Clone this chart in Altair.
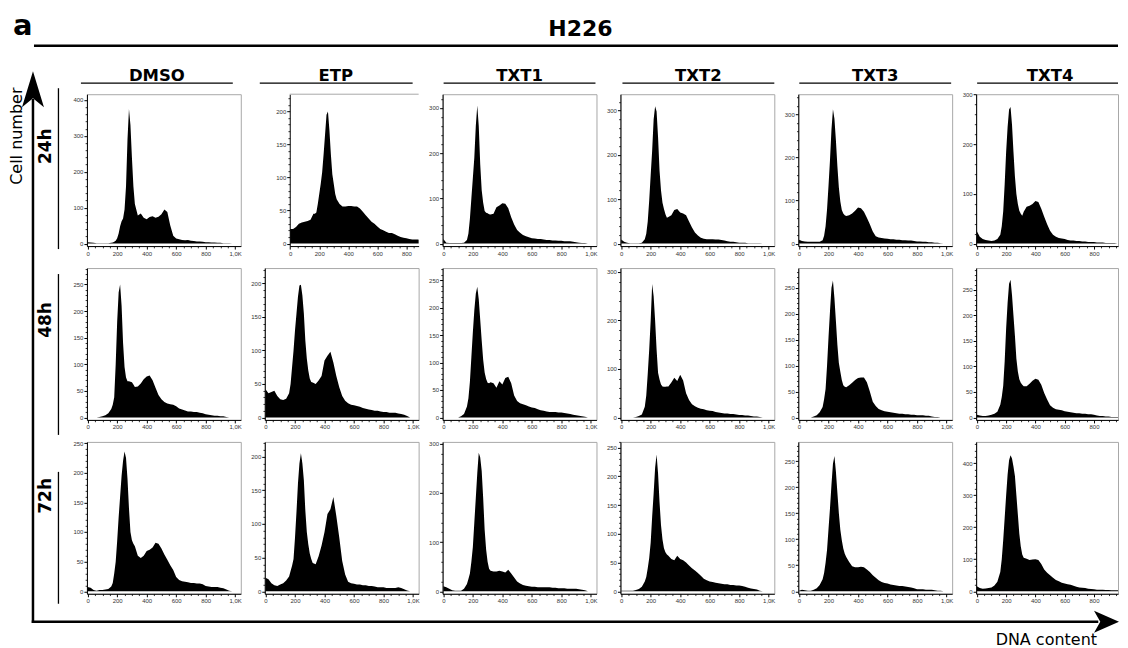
import altair as alt
import pandas as pd

# ---------------- data ----------------
XS = [0, 20, 40, 60, 80, 100, 120, 140, 160,
      170, 180, 190, 200, 210, 220, 230, 240, 250, 260, 270, 280, 290, 300, 310, 320,
      340, 360, 380, 400, 420, 440, 460, 480, 500, 520, 540, 560, 580, 600, 620, 640,
      660, 680, 700, 720, 740, 760, 780, 800, 820, 840, 860, 880, 900, 920, 940, 960,
      980, 1000, 1020]

COLUMNS = ["DMSO", "ETP", "TXT1", "TXT2", "TXT3", "TXT4"]
ROWS = ["24h", "48h", "72h"]

DMSO_24 = [4, 3, 2, 1, 1, 1, 1, 1, 2,
           3, 5, 8, 15, 28, 48, 62, 70, 95, 160, 290, 375, 330, 240, 160, 110,
           78, 84, 72, 68, 74, 76, 72, 75, 82, 95, 88, 50, 22, 14, 12, 10, 9, 10, 8, 7,
           6, 6, 5, 4, 4, 3, 3, 2, 2, 1, 1, 1, 0, 0, 0]
ETP_24 = [22, 22, 25, 30, 32, 33, 34, 36, 45,
          45, 47, 60, 75, 90, 108, 135, 165, 195, 200, 172, 135, 105, 90, 75, 67,
          60, 56, 56, 57, 57, 56, 56, 53, 48, 43, 38, 33, 30, 26, 22, 20, 18, 16, 16, 14,
          12, 10, 9, 8, 7, 6, 6, 6, 5, 5, 5, 4, 4, 4, 3]
TXT1_24 = [10, 2, 1, 1, 1, 1, 1, 2, 8,
           22, 55, 100, 145, 190, 260, 305, 260, 175, 118, 90, 72, 68, 67, 65, 64,
           66, 80, 84, 89, 88, 78, 58, 42, 30, 24, 19, 16, 14, 12, 11, 10, 10, 9, 8, 8,
           7, 7, 6, 6, 5, 5, 5, 4, 3, 2, 1, 1, 0, 0, 0]
TXT2_24 = [9, 4, 2, 1, 1, 1, 1, 2, 10,
           22, 50, 98, 155, 210, 280, 310, 298, 240, 165, 120, 92, 78, 66, 58, 60,
           64, 76, 78, 70, 68, 64, 50, 36, 25, 18, 13, 11, 10, 10, 10, 9, 9, 8, 7, 5,
           4, 4, 3, 2, 2, 2, 1, 1, 1, 1, 1, 0, 0, 0, 0]
TXT3_24 = [9, 6, 5, 4, 4, 4, 4, 4, 8,
           18, 40, 80, 135, 195, 265, 312, 290, 240, 180, 130, 98, 78, 70, 66, 64,
           66, 70, 76, 84, 82, 74, 60, 45, 28, 17, 14, 13, 12, 11, 10, 10, 9, 9, 8, 8,
           7, 7, 6, 5, 5, 4, 4, 3, 3, 2, 2, 1, 0, 0, 0]
TXT4_24 = [25, 14, 9, 7, 6, 5, 6, 9, 18,
           35, 65, 120, 185, 235, 270, 275, 240, 185, 135, 100, 80, 66, 60, 56, 64,
           74, 76, 80, 86, 84, 70, 54, 39, 26, 18, 14, 11, 10, 9, 7, 6, 6, 5, 5, 4,
           4, 3, 3, 3, 2, 2, 2, 1, 1, 1, 1, 0, 0, 0, 0]

DMSO_48 = [0, 0, 0, 0, 1, 2, 4, 8, 16,
           24, 38, 100, 180, 235, 250, 210, 140, 95, 75, 68, 68, 67, 66, 62, 57,
           58, 64, 72, 77, 79, 70, 56, 42, 34, 29, 26, 25, 24, 21, 17, 15, 13, 11, 11, 10,
           10, 9, 8, 6, 5, 4, 3, 3, 2, 2, 1, 0, 0, 0, 0]
ETP_48 = [42, 36, 38, 40, 32, 27, 26, 28, 36,
          50, 75, 100, 130, 155, 180, 197, 198, 182, 155, 115, 88, 70, 58, 53, 52,
          50, 55, 62, 85, 92, 98, 82, 62, 45, 32, 25, 21, 19, 18, 17, 16, 14, 13, 12, 11,
          10, 10, 9, 8, 8, 7, 7, 7, 6, 5, 4, 2, 0, 0, 0]
TXT1_48 = [0, 0, 0, 0, 0, 0, 2, 6, 20,
           35, 65, 110, 155, 195, 225, 238, 215, 178, 140, 105, 82, 70, 63, 62, 64,
           62, 54, 66, 60, 72, 74, 62, 40, 30, 26, 24, 22, 20, 18, 17, 15, 13, 12, 11, 10,
           10, 10, 9, 9, 8, 7, 6, 5, 4, 3, 2, 1, 0, 0, 0]
TXT2_48 = [0, 0, 0, 0, 0, 1, 3, 6, 22,
           45, 90, 140, 200, 275, 250, 200, 140, 92, 78, 68, 64, 63, 63, 64, 64,
           72, 82, 75, 88, 76, 50, 36, 27, 23, 20, 18, 17, 15, 14, 13, 11, 10, 9, 8, 8,
           7, 7, 6, 5, 5, 4, 4, 3, 2, 2, 1, 0, 0, 0, 0]
TXT3_48 = [0, 0, 0, 0, 0, 2, 4, 10, 20,
           35, 55, 100, 155, 205, 250, 264, 230, 186, 140, 105, 88, 72, 62, 59, 58,
           62, 67, 72, 76, 77, 77, 68, 50, 30, 22, 16, 14, 12, 11, 10, 9, 8, 7, 7, 6,
           6, 5, 5, 4, 4, 4, 3, 3, 2, 1, 1, 0, 0, 0, 0]
TXT4_48 = [5, 4, 3, 3, 4, 5, 7, 11, 25,
           40, 62, 110, 175, 225, 262, 270, 240, 200, 160, 115, 90, 75, 68, 64, 61,
           61, 66, 72, 76, 74, 64, 48, 35, 24, 19, 16, 15, 14, 12, 11, 10, 9, 8, 8, 7,
           7, 6, 6, 5, 4, 3, 3, 2, 2, 1, 1, 1, 0, 0, 0]

DMSO_72 = [7, 6, 2, 1, 2, 2, 3, 4, 8,
           14, 30, 50, 85, 125, 160, 195, 220, 236, 225, 190, 140, 100, 86, 80, 76,
           60, 56, 60, 68, 70, 74, 82, 80, 72, 62, 53, 44, 36, 24, 19, 17, 16, 15, 14, 14,
           13, 13, 12, 9, 8, 7, 7, 7, 6, 5, 3, 1, 0, 0, 0]
ETP_72 = [20, 18, 12, 9, 8, 10, 12, 16, 22,
          30, 38, 48, 80, 118, 160, 190, 205, 190, 165, 120, 88, 70, 56, 48, 42,
          40, 52, 68, 88, 115, 122, 140, 112, 80, 45, 25, 14, 12, 11, 10, 10, 9, 9, 8, 8,
          7, 6, 6, 6, 5, 5, 5, 5, 6, 5, 3, 1, 0, 0, 0]
TXT1_72 = [10, 8, 5, 2, 1, 1, 1, 5, 15,
           25, 36, 60, 90, 140, 190, 240, 282, 272, 245, 190, 125, 85, 60, 46, 42,
           40, 40, 42, 40, 38, 44, 36, 28, 20, 16, 13, 11, 10, 9, 9, 8, 8, 8, 8, 8,
           7, 7, 6, 6, 6, 5, 5, 5, 5, 4, 3, 2, 0, 0, 0]
TXT2_72 = [1, 1, 1, 1, 1, 2, 4, 8, 17,
           25, 40, 58, 85, 130, 170, 215, 238, 205, 155, 115, 90, 75, 68, 64, 62,
           56, 54, 62, 56, 54, 50, 45, 40, 36, 32, 27, 22, 19, 17, 16, 15, 14, 13, 12, 12,
           11, 11, 10, 10, 9, 8, 6, 5, 4, 3, 1, 0, 0, 0, 0]
TXT3_72 = [1, 3, 2, 1, 1, 3, 6, 12, 23,
           35, 55, 80, 120, 160, 205, 245, 260, 230, 190, 150, 118, 98, 82, 72, 66,
           56, 48, 46, 46, 47, 46, 42, 37, 31, 26, 21, 18, 16, 15, 13, 12, 11, 10, 10, 9,
           8, 7, 6, 4, 4, 4, 3, 3, 3, 2, 1, 1, 0, 0, 0]
TXT4_72 = [16, 10, 8, 9, 10, 12, 18, 30, 60,
           100, 160, 230, 300, 365, 410, 425, 415, 390, 360, 300, 240, 180, 140, 115, 105,
           102, 98, 99, 100, 98, 85, 68, 58, 50, 42, 35, 31, 27, 24, 22, 20, 17, 14, 12, 11,
           10, 8, 7, 6, 5, 5, 5, 4, 4, 3, 3, 3, 2, 1, 0]

SERIES = [[DMSO_24, ETP_24, TXT1_24, TXT2_24, TXT3_24, TXT4_24],
          [DMSO_48, ETP_48, TXT1_48, TXT2_48, TXT3_48, TXT4_48],
          [DMSO_72, ETP_72, TXT1_72, TXT2_72, TXT3_72, TXT4_72]]

# y-axis top and labelled tick step of each panel
YMAX = [[416, 226, 330, 337, 347, 301],
        [281, 223, 272, 308, 288, 293],
        [252, 222, 304, 260, 287, 467]]
YSTEP = [[100, 50, 100, 100, 100, 100],
         [50, 50, 50, 100, 50, 50],
         [50, 50, 100, 50, 50, 100]]

# ---------------- layout ----------------
FONT = "DejaVu Sans"
X0, Y0 = 86, 94          # page position of the first panel's plot area
W = 154
H = 152
FRAME = "#a8a8a8"
HEAD_CX = [156, 335, 519, 698, 875, 1050]
HEAD_U = [(80, 232), (259, 412), (443, 595), (622, 774), (799, 951), (977, 1118)]
ROW_CY = [146, 320, 496]
ROW_LINE = [(88, 249), (274, 435), (472, 604)]

ONE = pd.DataFrame({"t": [""]})


def px(x):
    return x - X0


def py(y):
    return y - Y0


def txt(label, x, y, **kw):
    kw.setdefault("baseline", "alphabetic")
    return alt.Chart(pd.DataFrame({"t": [label]})).mark_text(**kw).encode(
        text="t:N", x=alt.value(px(x)), y=alt.value(py(y)))


def seg_local(x1, y1, x2, y2, **kw):
    return alt.Chart(ONE).mark_rule(**kw).encode(
        x=alt.value(x1), x2=alt.value(x2), y=alt.value(y1), y2=alt.value(y2))


def seg(x1, y1, x2, y2, **kw):
    kw.setdefault("color", "black")
    return seg_local(px(x1), py(y1), px(x2), py(y2), **kw)


def head(shape, x, y, size):
    return alt.Chart(ONE).mark_point(shape=shape, filled=True, size=size,
                                     color="black", opacity=1, strokeWidth=0).encode(
        x=alt.value(px(x)), y=alt.value(py(y)))


def decorations():
    layers = [
        seg(8.5, 8.5, 8.5, 9, strokeOpacity=0, strokeWidth=1),
        txt("a", 12, 35, fontSize=29, fontWeight="bold", font=FONT, align="left"),
        txt("H226", 580, 36, fontSize=22, fontWeight="bold", font=FONT, align="center"),
        seg(33, 45.5, 1118, 45.5, strokeWidth=2.5),
        # axes arrows
        seg(32, 622, 32, 100, strokeWidth=2.5, strokeCap="square"),
        seg(32, 622, 1097, 622, strokeWidth=2.5, strokeCap="square"),
        head("M0,-1 L0.61,1 L0,0.5 L-0.61,1 Z", 32, 89, 1296),
        head("M1,0 L-1,-0.88 L-0.5,0 L-1,0.88 Z", 1106.5, 622, 625),
        txt("Cell number", 16, 136, fontSize=16, font=FONT, angle=270,
            align="center", baseline="middle"),
        txt("DNA content", 1097, 645, fontSize=16, font=FONT, align="right"),
    ]
    for c, name in enumerate(COLUMNS):
        layers.append(txt(name, HEAD_CX[c], 81, fontSize=16.5, fontWeight="bold",
                          font=FONT, align="center"))
        u1, u2 = HEAD_U[c]
        layers.append(seg(u1, 83, u2, 83, strokeWidth=1.3))
    for r, name in enumerate(ROWS):
        layers.append(txt(name, 45, ROW_CY[r], fontSize=17, fontWeight="bold",
                          font=FONT, angle=270, align="center", baseline="middle"))
        l1, l2 = ROW_LINE[r]
        layers.append(seg(57.5, l1, 57.5, l2, strokeWidth=1.3))
    return layers


AX = dict(grid=False, title=None, domainColor="black", domainWidth=1,
          tickColor="black", tickWidth=1, tickSize=3, labelFont="Liberation Sans",
          labelFontSize=6, labelColor="#333333", labelPadding=1,
          labelOverlap=False, labelFlush=False)
MINOR = dict(grid=False, title=None, labels=False, domain=False,
             tickColor="black", tickWidth=0.8, tickSize=1.8)


def panel(r, c):
    ys = SERIES[r][c]
    ymax = YMAX[r][c]
    step = YSTEP[r][c]
    narrow = (r == 0 and c == 1)       # ETP 24h: shorter x range, plot starts 25px in
    last = (c == 5)                    # TXT4 column is cut at the page edge
    w = 142 if last else W
    xmax = 884 if narrow else (964 if last else 1038)
    xmin = -3 if narrow else -5
    inset = 25 if narrow else 0
    ymin = -2.5 * ymax / (H - 2.5)
    df = pd.DataFrame({"x": XS, "y": ys})
    x_major = [v for v in [0, 200, 400, 600, 800, 1000] if v <= xmax]
    x_minor = [v for v in range(50, int(xmax), 50) if v % 200]
    y_major = list(range(0, ymax + 1, step))
    ms = step // 5
    y_minor = [v for v in range(ms, ymax + 1, ms) if v % step]
    if narrow:
        xsc = alt.Scale(domain=[xmin, xmax], range=[inset, w], nice=False, zero=False)
    else:
        xsc = alt.Scale(domain=[xmin, xmax], nice=False, zero=False)
    ysc = alt.Scale(domain=[ymin, ymax], nice=False, zero=False)
    area = alt.Chart(df).mark_area(color="black", clip=True, interpolate="linear").encode(
        x=alt.X("x:Q", scale=xsc, axis=alt.Axis(
            values=x_major, orient="bottom",
            labelExpr="datum.value >= 1000 ? '1,0K' : datum.label", **AX)),
        y=alt.Y("y:Q", scale=ysc, axis=alt.Axis(values=y_major, orient="left",
                                                offset=-inset, **AX)),
    )
    minor = alt.Chart(df).mark_line(opacity=0, clip=True).encode(
        x=alt.X("x:Q", scale=xsc, axis=alt.Axis(values=x_minor, orient="bottom", **MINOR)),
        y=alt.Y("y:Q", scale=ysc, axis=alt.Axis(values=y_minor, orient="left",
                                                offset=-inset, **MINOR)),
    )
    layers = [area, minor]
    if narrow:
        layers.append(seg_local(inset, 0, w, 0, color=FRAME, strokeWidth=1))
        view = alt.ViewBackground(strokeWidth=0)
    else:
        view = alt.ViewBackground(stroke=FRAME, strokeWidth=1)
    if r == 0 and c == 0:
        layers += decorations()
    return alt.layer(*layers).resolve_axis(x="independent", y="independent").properties(
        width=w, height=H, view=view)


panels = [panel(r, c) for r in range(3) for c in range(6)]

chart = alt.concat(*panels, columns=6, spacing={"row": 22, "column": 24},
                   bounds="flush", align="each").properties(
    padding=0
).configure_view(strokeWidth=0)

chart.save("out.html", embed_options={"renderer": "svg", "actions": False})
